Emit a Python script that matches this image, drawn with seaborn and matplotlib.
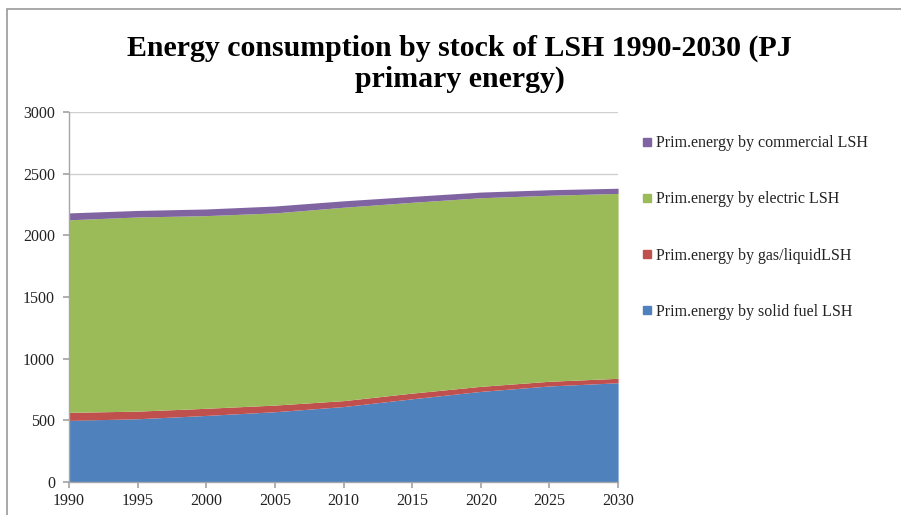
import matplotlib
matplotlib.use("Agg")
import matplotlib.pyplot as plt
from matplotlib.lines import Line2D
from matplotlib.patches import Rectangle
import seaborn as sns

# Stock of local space heaters (LSH): primary energy use in PJ
years = [1990, 1995, 2000, 2005, 2010, 2015, 2020, 2025, 2030]
solid_fuel = [500, 513, 540, 570, 612, 675, 735, 779, 805]
gas_liquid = [65, 62, 58, 54, 48, 46, 41, 38, 36]
electric = [1561, 1574, 1562, 1558, 1568, 1547, 1529, 1508, 1499]
commercial = [56, 53, 54, 56, 52, 48, 46, 45, 42]

series_labels = [
    "Prim.energy by solid fuel LSH",
    "Prim.energy by gas/liquidLSH",
    "Prim.energy by electric LSH",
    "Prim.energy by commercial LSH",
]
y_ticks = [0, 500, 1000, 1500, 2000, 2500, 3000]
title = "Energy consumption by stock of LSH 1990-2030 (PJ\nprimary energy)"

sns.set_theme(style="white")
plt.rcParams["font.family"] = ["Liberation Serif", "DejaVu Serif"]
colors = sns.color_palette(["#4F81BD", "#C0504D", "#9BBB59", "#8064A2"])

fig = plt.figure(figsize=(9.01, 5.15), dpi=100)
ax = fig.add_axes([0.0766, 0.064, 0.6094, 0.7185])

ax.stackplot(years, solid_fuel, gas_liquid, electric, commercial,
             colors=colors, linewidth=0, zorder=2)

ax.set_xlim(1990, 2030)
ax.set_ylim(0, 3000)
ax.set_xticks(years)
ax.set_yticks(y_ticks)
ax.yaxis.grid(True, color="#d0d0d0", linewidth=1.0, zorder=0)
ax.set_axisbelow(True)

for side in ("top", "right"):
    ax.spines[side].set_visible(False)
for side in ("left", "bottom"):
    ax.spines[side].set_color("#a6a6a6")
    ax.spines[side].set_linewidth(1.0)

ax.tick_params(axis="both", which="both", direction="out", length=4,
               color="#a6a6a6", labelsize=11.5, labelcolor="#222222",
               bottom=True, left=True)
ax.tick_params(axis="x", pad=4)
ax.tick_params(axis="y", pad=6)

fig.text(0.51, 0.876, title, ha="center", va="center",
         fontsize=21.5, fontweight="bold", color="black",
         linespacing=1.18)

handles = [Line2D([0], [0], marker="s", linestyle="none", markersize=5.5,
                  markerfacecolor=c, markeredgecolor=c)
           for c in colors]
order = [3, 2, 1, 0]
leg = fig.legend([handles[i] for i in order], [series_labels[i] for i in order],
                 loc="upper left", bbox_to_anchor=(0.706, 0.75),
                 frameon=False, fontsize=11.5, labelspacing=2.52,
                 handlelength=0.55, handletextpad=0.3, borderaxespad=0)
for t in leg.get_texts():
    t.set_color("#222222")

# chart frame
fig.add_artist(Rectangle((0.008, -0.1), 1.1, 1.082, transform=fig.transFigure,
                         fill=False, edgecolor="#9a9a9a", linewidth=1.2))

fig.savefig("out.png", dpi=100)
